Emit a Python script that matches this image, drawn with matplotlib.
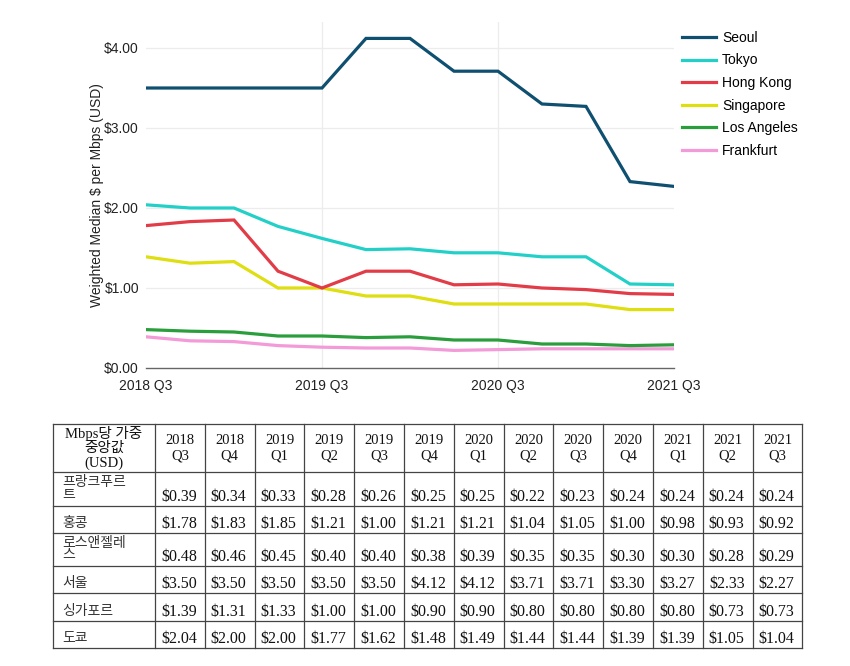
import matplotlib
matplotlib.use('Agg')
import matplotlib.pyplot as plt

# data
quarters = ['2018 Q3', '2018 Q4', '2019 Q1', '2019 Q2', '2019 Q3', '2019 Q4', '2020 Q1',
            '2020 Q2', '2020 Q3', '2020 Q4', '2021 Q1', '2021 Q2', '2021 Q3']
seoul = [3.50, 3.50, 3.50, 3.50, 3.50, 4.12, 4.12, 3.71, 3.71, 3.30, 3.27, 2.33, 2.27]
tokyo = [2.04, 2.00, 2.00, 1.77, 1.62, 1.48, 1.49, 1.44, 1.44, 1.39, 1.39, 1.05, 1.04]
hong_kong = [1.78, 1.83, 1.85, 1.21, 1.00, 1.21, 1.21, 1.04, 1.05, 1.00, 0.98, 0.93, 0.92]
singapore = [1.39, 1.31, 1.33, 1.00, 1.00, 0.90, 0.90, 0.80, 0.80, 0.80, 0.80, 0.73, 0.73]
los_angeles = [0.48, 0.46, 0.45, 0.40, 0.40, 0.38, 0.39, 0.35, 0.35, 0.30, 0.30, 0.28, 0.29]
frankfurt = [0.39, 0.34, 0.33, 0.28, 0.26, 0.25, 0.25, 0.22, 0.23, 0.24, 0.24, 0.24, 0.24]

series_names = ['Seoul', 'Tokyo', 'Hong Kong', 'Singapore', 'Los Angeles', 'Frankfurt']
series_values = [seoul, tokyo, hong_kong, singapore, los_angeles, frankfurt]
colors = ['#0f4f6f', '#22d0c8', '#e23c48', '#dede10', '#2a9e3c', '#f39ad8']

# table rows (korean labels)
table_labels = ['프랑크푸르\n트', '홍콩', '로스앤젤레\n스', '서울', '싱가포르', '도쿄']
table_values = [frankfurt, hong_kong, los_angeles, seoul, singapore, tokyo]
table_corner = 'Mbps당 가중\n중앙값\n(USD)'
table_headers = [q.replace(' ', '\n') for q in quarters]

W, H = 850, 666
fig = plt.figure(figsize=(W / 100, H / 100), dpi=100)
plt.rcParams['font.family'] = ['Liberation Sans', 'DejaVu Sans']

############ line chart
ax = fig.add_axes([146 / W, 1 - 368 / H, (674 - 146) / W, (368 - 22) / H])
x = list(range(len(quarters)))
for i, (name, vals, c) in enumerate(zip(series_names, series_values, colors)):
    ax.plot(x, vals, color=c, lw=2.3, label=name, zorder=10 - i, solid_joinstyle='miter')

ax.set_xlim(0, len(quarters) - 1)
ax.set_ylim(0, 4.325)
xt = x[::4]
ax.set_xticks(xt)
ax.set_xticklabels([quarters[i] for i in xt])
ax.set_yticks([0, 1, 2, 3, 4])
ax.set_yticklabels(['\\$%.2f' % v for v in [0, 1, 2, 3, 4]])
ax.tick_params(axis='both', length=0, labelsize=10, colors='#222222')
ax.tick_params(axis='x', pad=8)
ax.tick_params(axis='y', pad=5)
for v in [1, 2, 3, 4]:
    ax.axhline(v, color='#ececec', lw=0.9, zorder=0)
for v in xt[1:-1]:
    ax.axvline(v, color='#ececec', lw=0.9, zorder=0)
for s in ['top', 'right', 'left']:
    ax.spines[s].set_visible(False)
ax.spines['bottom'].set_color('#666666')
ax.spines['bottom'].set_linewidth(1.0)
ax.set_ylabel('Weighted Median \\$ per Mbps (USD)', fontsize=10, labelpad=0, color='#222222')

fig.legend(loc='upper left', bbox_to_anchor=(679 / W, 1 - 28 / H), frameon=False,
           fontsize=10, handlelength=2.45, handletextpad=0.45, labelspacing=0.62,
           borderaxespad=0, borderpad=0.2)

############ table
col_w = [102] + [49.8] * len(quarters)
row_h = [48, 34, 27, 33, 27, 28, 27]
tw, th = sum(col_w), sum(row_h)
at = fig.add_axes([53 / W, 1 - (424 + th) / H, tw / W, th / H])
at.set_xlim(0, tw)
at.set_ylim(th, 0)
at.axis('off')

xe = [0]
for w in col_w:
    xe.append(xe[-1] + w)
ye = [0]
for h in row_h:
    ye.append(ye[-1] + h)
for xv in xe:
    at.plot([xv, xv], [0, th], color='#444444', lw=0.9, clip_on=False)
for yv in ye:
    at.plot([0, tw], [yv, yv], color='#444444', lw=0.9, clip_on=False)

serif = ['Liberation Serif', 'Noto Sans CJK KR']
# corner cell, one text per line (baselines) so the spacing stays even
for k, line in enumerate(table_corner.split('\n')):
    at.text(col_w[0] / 2, [14, 28, 43][k], line, ha='center', va='baseline',
            family=serif, fontsize=10.5, color='#111111')
for j, hd in enumerate(table_headers):
    at.text((xe[j + 1] + xe[j + 2]) / 2, row_h[0] / 2, hd, ha='center', va='center',
            family=serif, fontsize=10.5, linespacing=1.2, color='#111111')

for i, (lab, vals) in enumerate(zip(table_labels, table_values)):
    top, bot = ye[i + 1], ye[i + 2]
    if '\n' in lab:
        for k, line in enumerate(lab.split('\n')):
            at.text(9, top + 14 + 12.5 * k, line, ha='left', va='baseline',
                    family='Noto Sans CJK KR', fontsize=10, color='#333333')
    else:
        at.text(9, bot - 6, lab, ha='left', va='baseline', family='Noto Sans CJK KR',
                fontsize=10, color='#333333')
    for j, v in enumerate(vals):
        at.text((xe[j + 1] + xe[j + 2]) / 2 - 1, bot - 5, '\\$%.2f' % v, ha='center',
                va='baseline', family=serif, fontsize=11.5, color='#111111')

fig.savefig('out.png', dpi=100)
